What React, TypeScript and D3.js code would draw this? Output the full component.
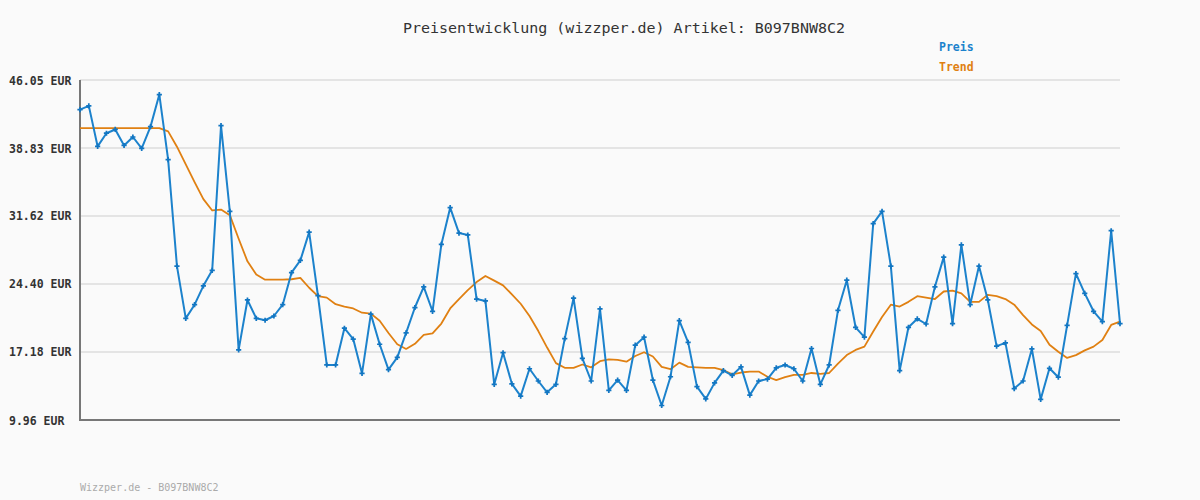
import React from "react";
import * as d3 from "d3";

const title = "Preisentwicklung (wizzper.de) Artikel: B097BNW8C2";
const footer = "Wizzper.de - B097BNW8C2";
const legendLabels = ["Preis", "Trend"];
const yTicks = [9.96, 17.18, 24.4, 31.62, 38.83, 46.05];

const prices = [
  42.9, 43.3, 39.0, 40.4, 40.8, 39.1, 40.0, 38.8, 41.1, 44.5,
  37.6, 26.3, 20.75, 22.2, 24.2, 25.85, 41.2, 32.1, 17.4, 22.7,
  20.75, 20.55, 21.0, 22.2, 25.6, 26.9, 29.9, 23.15, 15.8, 15.8,
  19.7, 18.55, 14.9, 21.2, 18.0, 15.3, 16.6, 19.2, 21.9, 24.1,
  21.5, 28.6, 32.5, 29.8, 29.6, 22.8, 22.6, 13.75, 17.1, 13.8,
  12.5, 15.4, 14.1, 12.9, 13.75, 18.6, 22.9, 16.5, 14.1, 21.75,
  13.1, 14.2, 13.1, 17.9, 18.75, 14.2, 11.5, 14.55, 20.5, 18.2,
  13.5, 12.2, 13.9, 15.2, 14.7, 15.6, 12.6, 14.1, 14.3, 15.5,
  15.8, 15.4, 14.1, 17.55, 13.75, 15.8, 21.6, 24.8, 19.8, 18.75,
  30.8, 32.1, 26.3, 15.2, 19.8, 20.7, 20.15, 24.1, 27.25, 20.2,
  28.55, 22.2, 26.3, 22.7, 17.8, 18.15, 13.3, 14.1, 17.5, 12.15,
  15.45, 14.5, 20.0, 25.5, 23.4, 21.5, 20.4, 30.05, 20.2,
];

const trend = [
  40.95, 40.95, 40.95, 40.95, 40.95, 40.95, 40.95, 40.95, 40.95, 40.95,
  40.6, 38.97, 37.1, 35.2, 33.4, 32.2, 32.3, 31.7, 29.2, 26.8,
  25.4, 24.85, 24.85, 24.85, 24.9, 25.05, 24.0, 23.1, 22.95, 22.25,
  22.0, 21.8, 21.35, 21.25, 20.5, 19.2, 18.0, 17.5, 18.05, 19.0,
  19.15, 20.2, 21.8, 22.8, 23.75, 24.6, 25.25, 24.75, 24.25, 23.3,
  22.3, 21.0, 19.4, 17.65, 16.0, 15.5, 15.5, 15.85, 15.55, 16.2,
  16.4, 16.35, 16.15, 16.75, 17.15, 16.7, 15.6, 15.35, 16.05, 15.6,
  15.55, 15.5, 15.5, 15.25, 14.8, 15.0, 15.1, 15.1, 14.55, 14.2,
  14.5, 14.75, 14.75, 14.95, 14.85, 14.95, 15.95, 16.85, 17.4, 17.75,
  19.35, 20.9, 22.2, 22.0, 22.5, 23.1, 22.95, 22.8, 23.6, 23.7,
  23.4, 22.5, 22.5, 23.25, 23.1, 22.8, 22.2, 21.1, 20.1, 19.4,
  17.95, 17.2, 16.55, 16.85, 17.35, 17.75, 18.45, 20.05, 20.4,
];

const W = 1200;
const H = 500;
const left = 80;
const right = 1120;
const top = 80;
const bottom = 420;
const blue = "#1c82cc";
const blueDark = "#1276c2";
const orange = "#e08012";
const mono = "'DejaVu Sans Mono', 'Liberation Mono', monospace";

export default function App() {
  const x = d3.scaleLinear().domain([0, prices.length - 1]).range([left, right]);
  const y = d3.scaleLinear().domain([yTicks[0], yTicks[yTicks.length - 1]]).range([bottom, top]);
  const line = d3
    .line<number>()
    .x((_, i) => x(i))
    .y((d) => y(d));
  const cross = d3.symbol().type(d3.symbolCross).size(15)();

  return (
    <div style={{ position: "absolute", left: 0, top: 0 }}>
      <svg width={W} height={H} style={{ display: "block" }}>
        <rect x={0} y={0} width={W} height={H} fill="#fafafa" />
        <text
          x={624}
          y={33}
          textAnchor="middle"
          fontFamily={mono}
          fontSize={14.5}
          fill="#333"
          textLength={442}
          lengthAdjust="spacingAndGlyphs"
        >
          {title}
        </text>
        {yTicks.map((t) => (
          <g key={t}>
            <line
              x1={left}
              x2={right}
              y1={y(t)}
              y2={y(t)}
              stroke="#e4e4e4"
              strokeWidth={2}
            />
            <text
              x={9}
              y={y(t) + 4.5}
              fontFamily={mono}
              fontSize={11.5}
              fontWeight="bold"
              fill="#333"
            >
              {t.toFixed(2) + " EUR"}
            </text>
          </g>
        ))}
        <line x1={80} x2={80} y1={top} y2={bottom + 1} stroke="#777" strokeWidth={2} />
        <line x1={79} x2={right} y1={bottom} y2={bottom} stroke="#777" strokeWidth={2} />
        <path d={line(trend) || ""} fill="none" stroke={orange} strokeWidth={1.8} strokeLinejoin="round" />
        <path d={line(prices) || ""} fill="none" stroke={blue} strokeWidth={2} strokeLinejoin="round" />
        {prices.map((p, i) => (
          <path key={i} d={cross || ""} transform={`translate(${x(i)},${y(p)})`} fill={blueDark} />
        ))}
        <text x={939} y={51} fontFamily={mono} fontSize={11.5} fontWeight="bold" fill={blue}>
          {legendLabels[0]}
        </text>
        <text x={939} y={71} fontFamily={mono} fontSize={11.5} fontWeight="bold" fill={orange}>
          {legendLabels[1]}
        </text>
        <text x={80} y={491} fontFamily={mono} fontSize={10} fill="#aaa">
          {footer}
        </text>
      </svg>
    </div>
  );
}
